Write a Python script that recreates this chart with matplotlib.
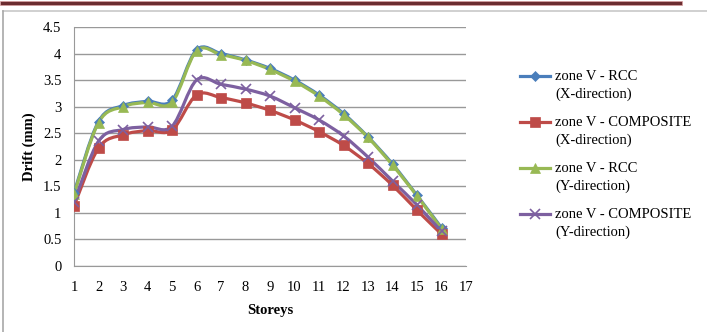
import matplotlib
matplotlib.use("Agg")
import matplotlib.pyplot as plt
from matplotlib.path import Path
from matplotlib.patches import PathPatch, Rectangle
from matplotlib.lines import Line2D
import numpy as np

plt.rcParams['font.family'] = ['Liberation Serif', 'DejaVu Serif']

storeys = [1, 2, 3, 4, 5, 6, 7, 8, 9, 10, 11, 12, 13, 14, 15, 16]
rcc_x = [1.38, 2.72, 3.02, 3.10, 3.12, 4.07, 4.00, 3.88, 3.72, 3.50, 3.22, 2.87, 2.43, 1.92, 1.33, 0.72]
comp_x = [1.13, 2.22, 2.47, 2.55, 2.56, 3.22, 3.17, 3.07, 2.93, 2.75, 2.53, 2.27, 1.93, 1.52, 1.05, 0.60]
rcc_y = [1.35, 2.70, 3.00, 3.08, 3.08, 4.05, 3.98, 3.87, 3.70, 3.48, 3.20, 2.85, 2.42, 1.90, 1.32, 0.70]
comp_y = [1.20, 2.35, 2.57, 2.62, 2.63, 3.50, 3.42, 3.33, 3.20, 2.98, 2.75, 2.45, 2.05, 1.60, 1.15, 0.65]

labels = ["zone V - RCC\n(X-direction)", "zone V - COMPOSITE\n(X-direction)",
          "zone V - RCC\n(Y-direction)", "zone V - COMPOSITE\n(Y-direction)"]
colors = ["#4a7ebb", "#be4b48", "#98b954", "#7d60a0"]
markers = ["D", "s", "^", "x"]
msizes = [5, 7, 7, 7]
series = [rcc_x, comp_x, rcc_y, comp_y]

xticks = list(range(1, 18))
yticks = [0, 0.5, 1, 1.5, 2, 2.5, 3, 3.5, 4, 4.5]

W, H = 707, 332


def smooth_path(xs, ys):
    pts = np.column_stack([xs, ys]).astype(float)
    n = len(pts)
    verts = [pts[0]]
    codes = [Path.MOVETO]
    for i in range(n - 1):
        p0 = pts[i - 1] if i > 0 else pts[i]
        p1 = pts[i]
        p2 = pts[i + 1]
        p3 = pts[i + 2] if i + 2 < n else pts[i + 1]
        c1 = p1 + (p2 - p0) / 6.0
        c2 = p2 - (p3 - p1) / 6.0
        verts += [c1, c2, p2]
        codes += [Path.CURVE4] * 3
    return Path(verts, codes)


def fx(px):
    return px / W


def fy(py):
    return 1 - py / H


fig = plt.figure(figsize=(W / 100, H / 100), dpi=100)
# top decorative band and chart frame
fig.patches.append(Rectangle((0, fy(5)), fx(682), 4 / H, transform=fig.transFigure,
                             facecolor="#6b2c30", edgecolor="#d9a0a0", linewidth=0.5, zorder=0))
fig.add_artist(Line2D([fx(3), 1], [fy(11), fy(11)], transform=fig.transFigure,
                      color="#c8c8c8", linewidth=1.2))
fig.add_artist(Line2D([fx(3), fx(3)], [0, fy(11)], transform=fig.transFigure,
                      color="#a8a8a8", linewidth=1.2))

ax = fig.add_axes([fx(74), fy(266), fx(466 - 74), (266 - 27) / H])
ax.set_xlim(1, 17)
ax.set_ylim(0, 4.5)
ax.set_xticks(xticks)
ax.set_yticks(yticks)
ax.set_yticklabels([f"{v:g}" for v in yticks])
ax.tick_params(axis='both', length=0, labelsize=10.5)
ax.tick_params(axis='x', pad=11)
ax.tick_params(axis='y', pad=9)
ax.grid(axis='y', color="#999999", linewidth=1.0)
ax.set_axisbelow(True)
for s in ["top", "right"]:
    ax.spines[s].set_visible(False)
ax.spines["left"].set_color("#999999")
ax.spines["bottom"].set_color("#999999")

for ys, c, m, ms in zip(series, colors, markers, msizes):
    path = smooth_path(storeys, ys)
    ax.add_patch(PathPatch(path, facecolor="none", edgecolor=c, linewidth=2.3,
                           capstyle="round", joinstyle="round", zorder=3))
    ax.plot(storeys, ys, linestyle="none", marker=m, color=c, markersize=ms,
            markeredgewidth=1.2 if m == "x" else 0.5, zorder=4)

ax.set_xlabel("Storeys", fontsize=10.5, fontweight="bold", labelpad=7)
ax.set_ylabel("Drift (mm)", fontsize=10.5, fontweight="bold", labelpad=5)

# manual legend (marker aligned with first text line, as in the source chart)
for i, (c, m, ms, lab) in enumerate(zip(colors, markers, msizes, labels)):
    y0 = 77 + 46 * i
    fig.add_artist(Line2D([fx(520), fx(550)], [fy(y0 - 1), fy(y0 - 1)], transform=fig.transFigure,
                          color=c, linewidth=2.3))
    fig.add_artist(Line2D([fx(535)], [fy(y0 - 1)], transform=fig.transFigure, color=c,
                          marker=m, markersize=ms, linestyle="none",
                          markeredgewidth=1.2 if m == "x" else 0.5))
    first, second = lab.split("\n")
    fig.text(fx(555), fy(y0), first, fontsize=10.5, va="center", ha="left")
    fig.text(fx(555), fy(y0 + 17), second, fontsize=10.5, va="center", ha="left")

fig.savefig("out.png", dpi=100)
